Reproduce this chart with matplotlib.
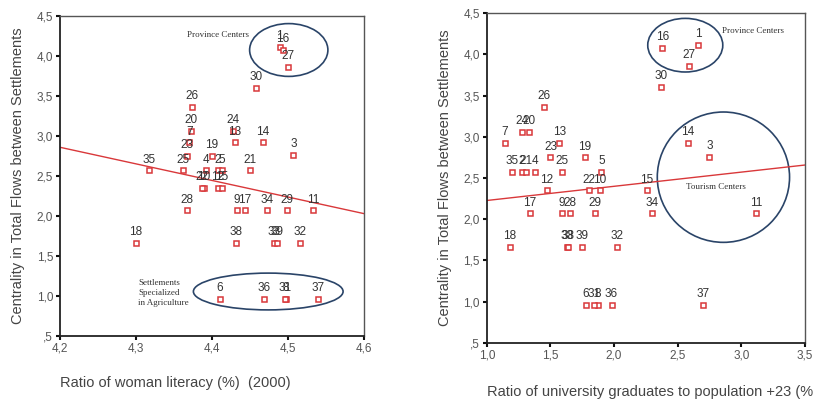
import numpy as np
import matplotlib
matplotlib.use("Agg")
import matplotlib.pyplot as plt
from matplotlib.patches import Ellipse
from matplotlib.ticker import FuncFormatter

plt.rcParams['font.family'] = ['Liberation Sans', 'DejaVu Sans']

# settlement ids, centrality (y), woman literacy (left x), university graduates (right x)
ids = list(range(1, 40))
centrality = [4.11, 2.57, 2.76, 2.57, 2.57, 0.96, 2.92, 0.96, 2.07, 2.35,
              2.07, 2.35, 2.92, 2.92, 2.35, 4.08, 2.07, 1.66, 2.75, 3.06,
              2.57, 2.35, 2.75, 3.06, 2.57, 3.36, 3.86, 2.07, 2.07, 3.60,
              0.96, 1.66, 1.66, 2.07, 2.57, 0.96, 0.96, 1.66, 1.66]
literacy = [4.489, 4.408, 4.507, 4.392, 4.413, 4.410, 4.370, 4.497, 4.433, 4.389,
            4.533, 4.408, 4.430, 4.467, 4.413, 4.493, 4.443, 4.300, 4.400, 4.372,
            4.450, 4.387, 4.367, 4.428, 4.362, 4.374, 4.500, 4.367, 4.499, 4.458,
            4.496, 4.516, 4.482, 4.472, 4.317, 4.468, 4.540, 4.432, 4.485]
graduates = [2.66, 1.275, 2.75, 1.38, 1.90, 1.78, 1.14, 1.87, 1.59, 1.89,
             3.12, 1.47, 1.57, 2.58, 2.26, 2.38, 1.34, 1.18, 1.77, 1.33,
             1.31, 1.80, 1.50, 1.275, 1.59, 1.45, 2.59, 1.65, 1.85, 2.37,
             1.84, 2.02, 1.63, 2.30, 1.20, 1.98, 2.70, 1.64, 1.75]

y = np.array(centrality)
RED = "#d9383a"
EDGE = "#2a4468"
comma = FuncFormatter(lambda v, p: (f"{v:.1f}".replace(".", ",")).lstrip("0") if v < 1 else f"{v:.1f}".replace(".", ","))

fig = plt.figure(figsize=(8.28, 4.03), dpi=100)
axL = fig.add_axes([0.0725, 0.1663, 0.3671, 0.794])
axR = fig.add_axes([0.588, 0.1489, 0.384, 0.8188])


def scatter_panel(ax, x, xlim, xticks):
    x = np.array(x)
    ax.plot(x, y, ls="none", marker="s", ms=3.6, mfc="white", mec=RED, mew=1.1, zorder=3)
    for i, xv, yv in zip(ids, x, y):
        ax.annotate(str(i), (xv, yv), xytext=(0, 3.5), textcoords="offset points",
                    ha="center", va="bottom", fontsize=8.5, color="#333333", zorder=4)
    # least squares line through the points
    k, b = np.polyfit(x, y, 1)
    xs = np.array(xlim)
    ax.plot(xs, k * xs + b, color=RED, lw=1, zorder=2)
    ax.set_xlim(xlim)
    ax.set_ylim(0.5, 4.5)
    ax.set_xticks(xticks)
    ax.set_yticks(np.arange(0.5, 4.51, 0.5))
    ax.xaxis.set_major_formatter(comma)
    ax.yaxis.set_major_formatter(comma)
    ax.tick_params(direction="out", length=3, width=1.5, labelsize=8.5,
                   labelcolor="#555555", color="#111111", pad=2)
    for s in ax.spines.values():
        s.set_color("#555555")
        s.set_linewidth(1)
    ax.spines["left"].set_color("#222222")
    ax.spines["bottom"].set_color("#222222")
    ax.spines["left"].set_linewidth(1.3)
    ax.spines["bottom"].set_linewidth(1.3)


scatter_panel(axL, literacy, (4.2, 4.6), [4.2, 4.3, 4.4, 4.5, 4.6])
scatter_panel(axR, graduates, (1.0, 3.5), [1.0, 1.5, 2.0, 2.5, 3.0, 3.5])

ylab = "Centrality in Total Flows between Settlements"
axL.set_ylabel(ylab, fontsize=10.5, color="#444444", labelpad=8)
axR.set_ylabel(ylab, fontsize=10.5, color="#444444", labelpad=8)
axL.set_xlabel("Ratio of woman literacy (%)  (2000)", fontsize=10.5, color="#444444",
               labelpad=15, loc="left")
fig.text(487 / 828, 1 - 392 / 403, "Ratio of university graduates to population +23 (%",
         fontsize=10.5, color="#444444", ha="left", va="center")

note = dict(family=["Liberation Serif", "DejaVu Serif"], fontsize=6.5, color="#333333")

# left panel groups
axL.add_patch(Ellipse((4.501, 4.075), 0.103, 0.66, fill=False, ec=EDGE, lw=1.2, zorder=1))
axL.text(4.408, 4.26, "Province Centers", ha="center", va="center", **note)
axL.add_patch(Ellipse((4.474, 1.056), 0.197, 0.46, fill=False, ec=EDGE, lw=1.2, zorder=1))
axL.text(4.303, 1.04, "Settlements\nSpecialized\nin Agriculture", ha="left", va="center",
         linespacing=1.3, **note)

# right panel groups
axR.add_patch(Ellipse((2.56, 4.11), 0.59, 0.65, fill=False, ec=EDGE, lw=1.2, zorder=1))
axR.text(2.85, 4.28, "Province Centers", ha="left", va="center", **note)
axR.add_patch(Ellipse((2.86, 2.51), 1.04, 1.58, fill=False, ec=EDGE, lw=1.2, zorder=1))
axR.text(2.80, 2.39, "Tourism Centers", ha="center", va="center", **note)

fig.savefig("out.png", dpi=100)
